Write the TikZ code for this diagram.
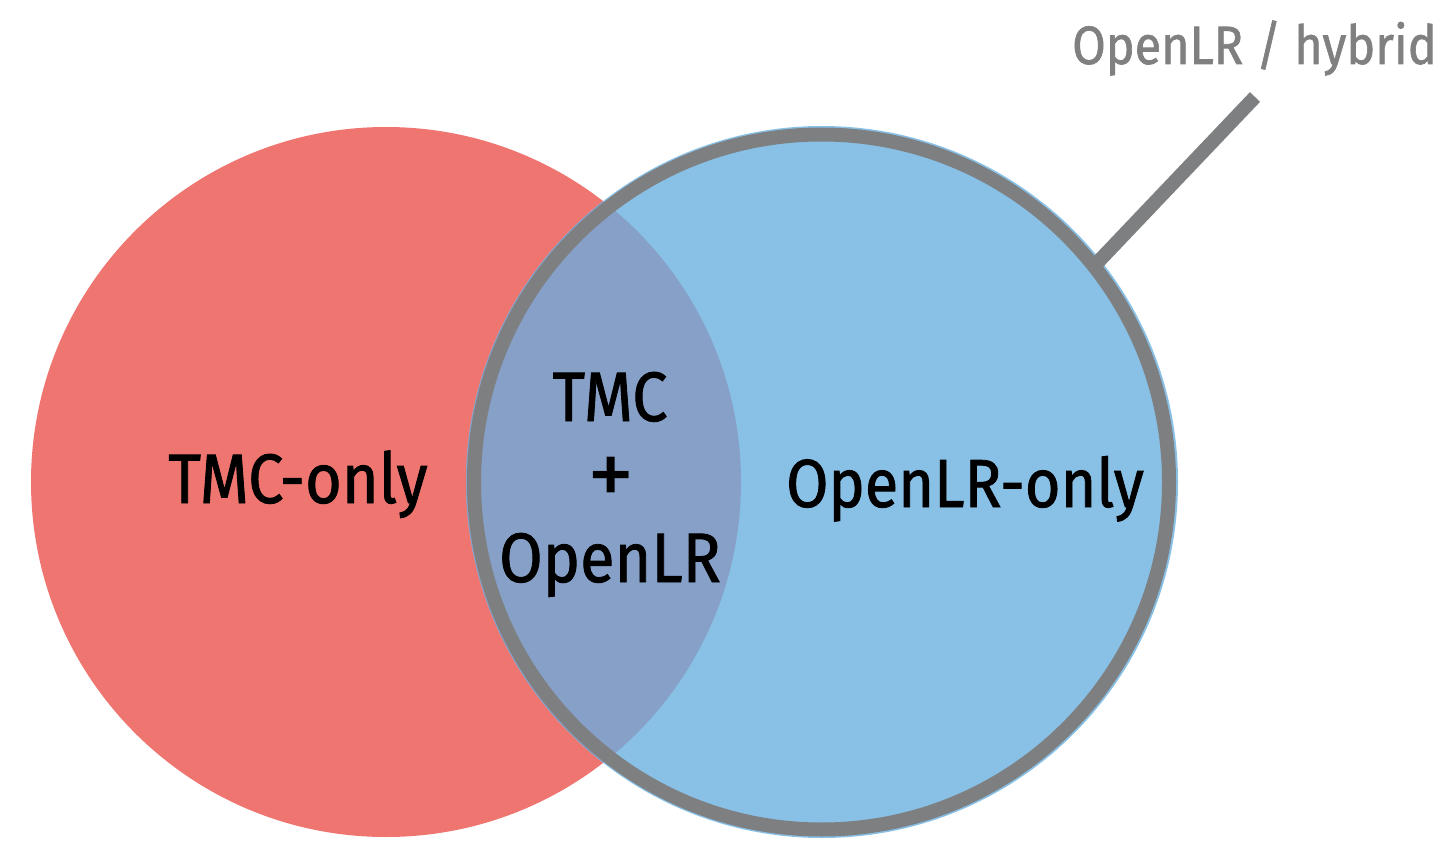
\documentclass[tikz,border=0pt]{standalone}
\usepackage{fontspec}
\setmainfont{Fira Sans}[FakeStretch=0.9, FakeBold=1.2]
\newfontfamily\plusfont{Fira Sans}
\definecolor{tmcred}{HTML}{EE7570}
\definecolor{olrblue}{HTML}{89C0E6}
\definecolor{ovlp}{HTML}{86A0C7}
\definecolor{ringgray}{HTML}{7D7F80}
\definecolor{labgray}{HTML}{808080}
\tikzset{
  bigtext/.style={font=\fontsize{70}{84}\selectfont, text=black, inner sep=0pt, align=center},
  smalltext/.style={font=\fontsize{54}{64}\selectfont, text=labgray, inner sep=0pt},
  ringline/.style={draw=ringgray, line width=14pt},
}
\begin{document}
\begin{tikzpicture}[x=1pt,y=-1pt]
\useasboundingbox (0,0) rectangle (1452,864);
% red circle
\node[circle, fill=tmcred, minimum size=710pt, inner sep=0pt] (tmc) at (386,482) {};
% blue circle
\node[circle, fill=olrblue, minimum size=712pt, inner sep=0pt] (olr) at (822,482) {};
% overlap
\begin{scope}
  \clip (386,482) circle (355pt);
  \fill[ovlp] (822,482) circle (356pt);
\end{scope}
% gray ring
\node[circle, draw=ringgray, line width=14pt, minimum size=695pt, inner sep=0pt] (ring) at (821.5,482) {};
% label and leader
\node[smalltext, anchor=base west] (hyb) at (1072,64) {OpenLR / hybrid};
\coordinate (lstart) at (1098,262);
\coordinate (lend) at (1255,97);
\draw[ringline] (lstart) -- (lend);
% texts
\node[bigtext, anchor=base] (tmconly) at (298,503) {TMC-only};
\node[bigtext, anchor=base] (tmct) at (610,421) {TMC};
\node[bigtext, anchor=center, font=\plusfont\fontsize{95}{105}\selectfont] (plus) at (611,482) {+};
\node[bigtext, anchor=base] (olrt) at (610,582) {OpenLR};
\node[bigtext, anchor=base, font=\fontsize{68}{80}\selectfont] (olronly) at (965,507) {OpenLR-only};
\end{tikzpicture}
\end{document}
